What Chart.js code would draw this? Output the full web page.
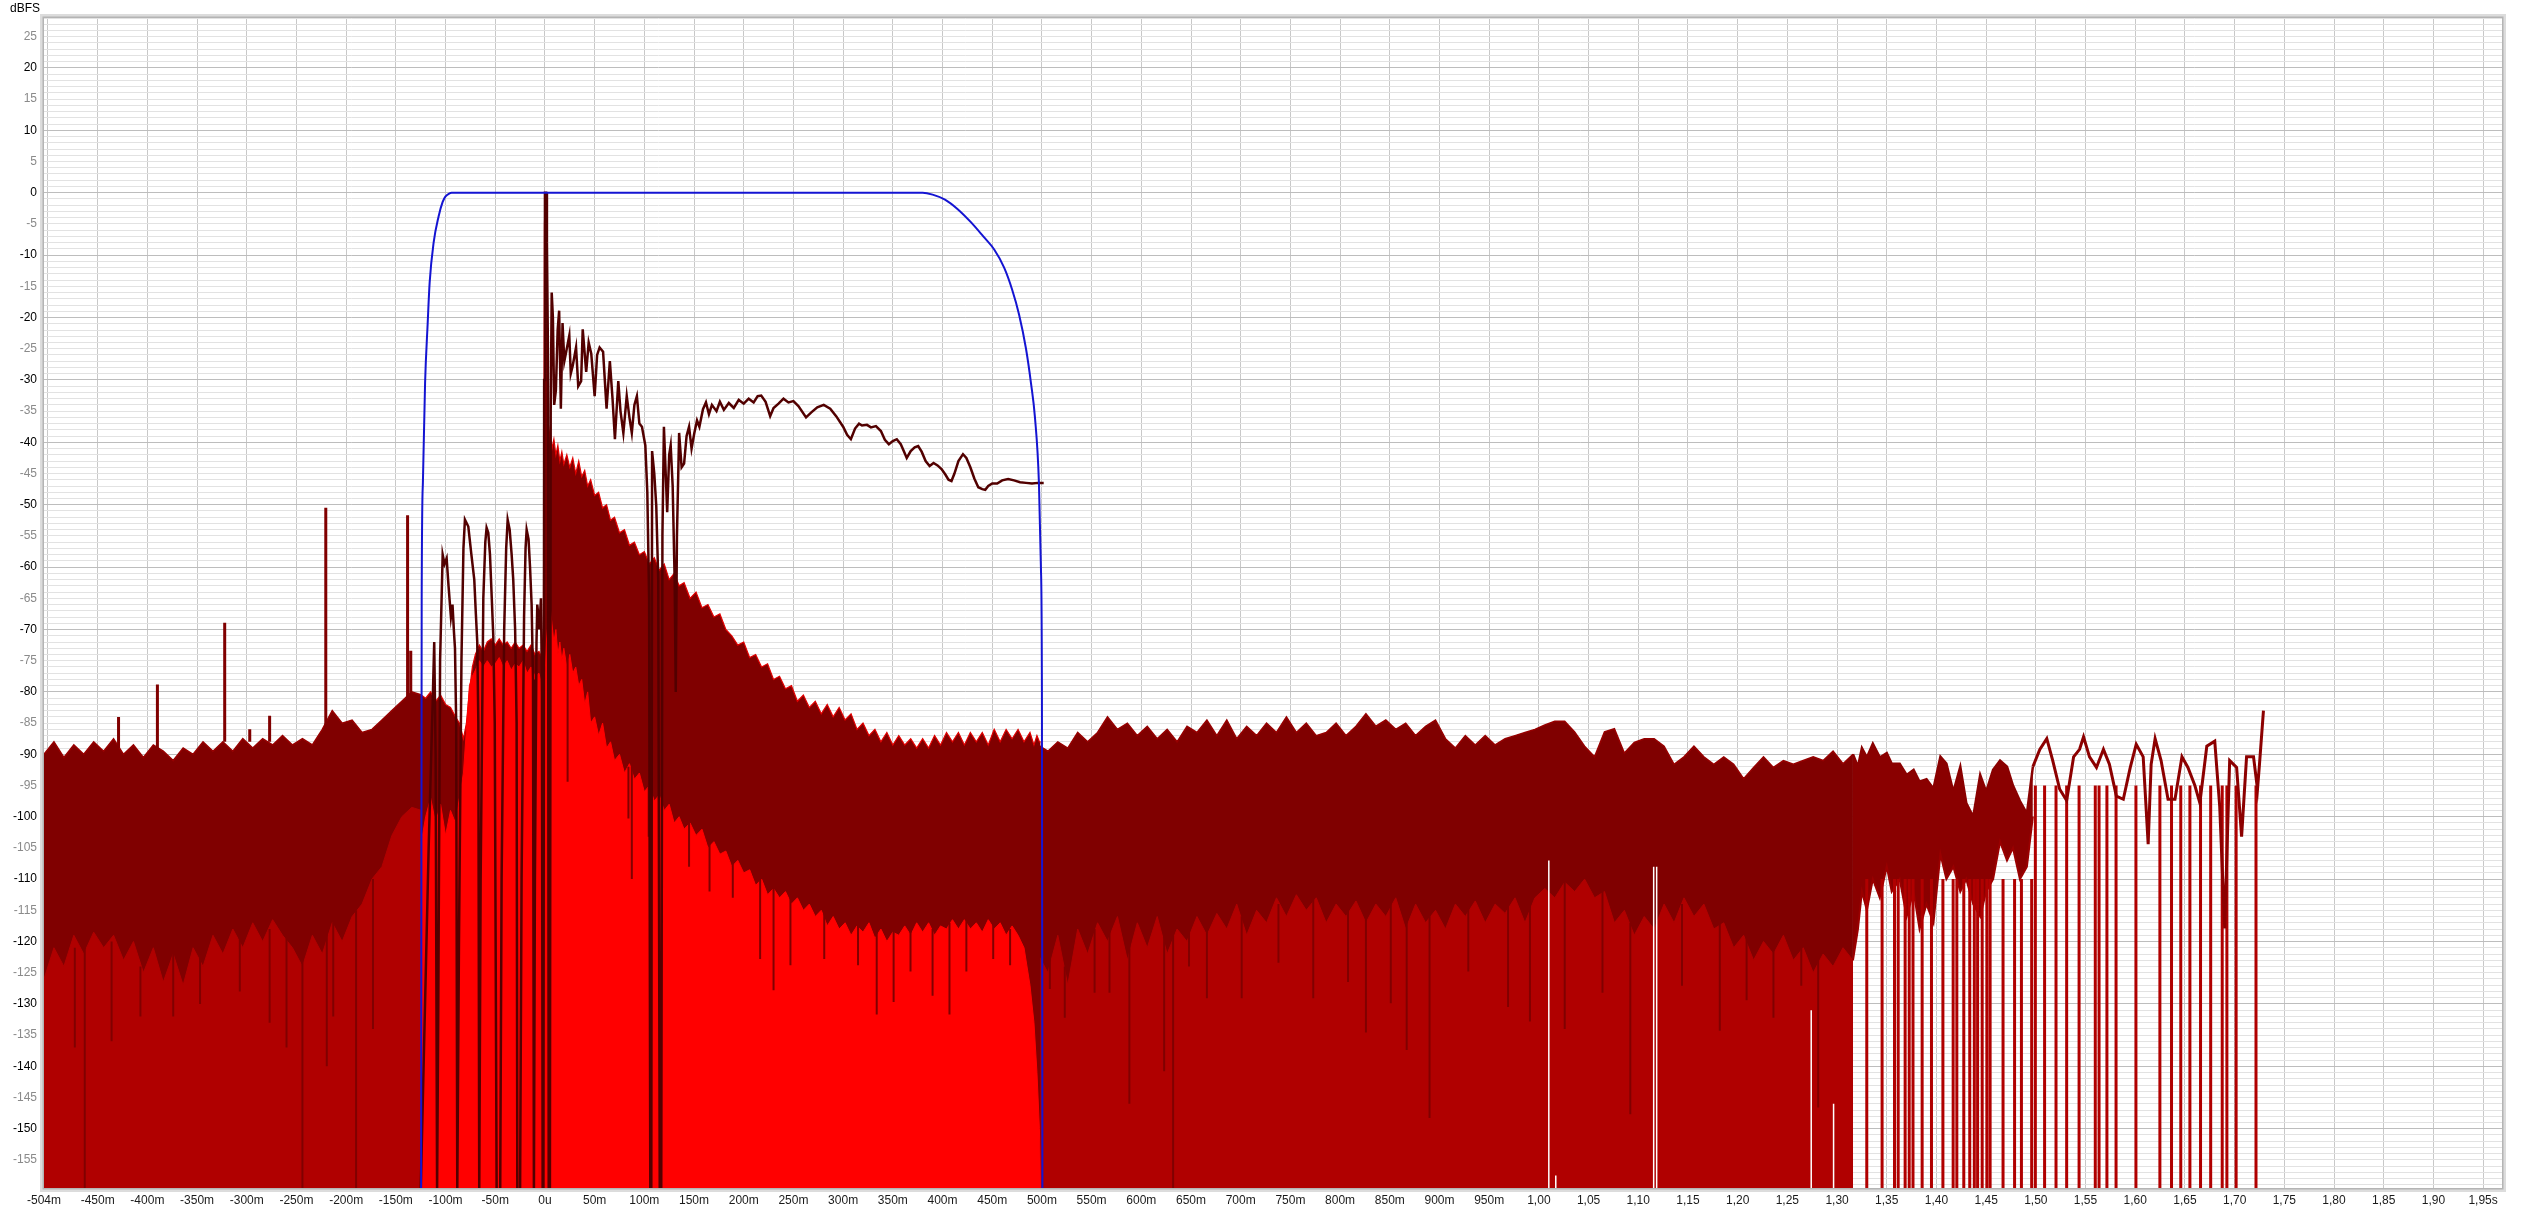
<!DOCTYPE html>
<html>
<head>
<meta charset="utf-8">
<title>Impulse response</title>
<script src="https://cdn.jsdelivr.net/npm/chart.js@4.4.1/dist/chart.umd.min.js"></script>
<style>
  html, body { margin: 0; padding: 0; background: #fff; }
  canvas { display: block; }
</style>
</head>
<body>
<canvas id="myChart" width="2524" height="1212"></canvas>
<script>
// axis ranges (ms / dBFS)
const xMin = -504, xMax = 1969;
const yMin = -159.5, yMax = 28;
const floorDb = -160;

const xTickValues = [-504, -450, -400, -350, -300, -250, -200, -150, -100, -50,
    0, 50, 100, 150, 200, 250, 300, 350, 400, 450,
    500, 550, 600, 650, 700, 750, 800, 850, 900, 950,
    1000, 1050, 1100, 1150, 1200, 1250, 1300, 1350, 1400, 1450,
    1500, 1550, 1600, 1650, 1700, 1750, 1800, 1850, 1900, 1950];
const xTickLabels = ['-504m', '-450m', '-400m', '-350m', '-300m', '-250m', '-200m', '-150m', '-100m', '-50m',
    '0u', '50m', '100m', '150m', '200m', '250m', '300m', '350m', '400m', '450m',
    '500m', '550m', '600m', '650m', '700m', '750m', '800m', '850m', '900m', '950m',
    '1,00', '1,05', '1,10', '1,15', '1,20', '1,25', '1,30', '1,35', '1,40', '1,45',
    '1,50', '1,55', '1,60', '1,65', '1,70', '1,75', '1,80', '1,85', '1,90', '1,95s'];
const yLabelValues = [25, 20, 15, 10, 5, 0, -5, -10, -15, -20, -25, -30, -35, -40, -45, -50, -55, -60, -65,
    -70, -75, -80, -85, -90, -95, -100, -105, -110, -115, -120, -125, -130, -135, -140, -145, -150, -155];

// full impulse response before the window, sampled every 10 ms from -504 ms
const preStart = -504, preStep = 10;
const preHi = [-90, -88, -90.5, -88.5, -90, -88, -89.5, -87.5, -90, -88.5,
    -90.5, -88.5, -89.5, -91, -89, -90, -88, -89.5, -88, -89.5,
    -87.5, -89, -87.5, -88.5, -87, -88.5, -87.5, -88.5, -86, -83,
    -85, -84.5, -86.5, -86, -84.5, -83, -81.5, -80, -80.5];
const preLo = [-126, -121, -124, -119, -122, -118.5, -121, -119, -123, -120,
    -125, -121, -126.5, -122, -127, -121, -124, -119, -122, -118,
    -121, -117, -120, -116.5, -119, -121, -124, -119, -122, -117,
    -120, -116, -114, -110, -108, -103, -100, -98.5, -99];

// windowed impulse response (-125 .. 500 ms)
const winT = [-125, -124.3, -120, -115, -110, -105, -100, -95, -90, -86,
    -82, -79, -76, -73, -70, -66, -62, -58, -54, -50,
    -46, -42, -38, -34, -30, -26, -22, -18, -14, -10,
    -6, -3, -1.5, -0.5, 0.5, 1.5, 2.5, 3.5, 5, 7,
    9, 11, 13, 15, 17, 19, 22, 25, 28, 31,
    34, 37, 40, 43, 46, 50, 54, 58, 62, 66,
    70, 75, 80, 85, 90, 95, 100, 105, 110, 115,
    120, 125, 130, 135, 140, 146, 152, 158, 164, 170,
    176, 182, 188, 194, 200, 206, 212, 218, 224, 230,
    236, 242, 248, 254, 260, 266, 272, 278, 284, 290,
    296, 302, 308, 314, 320, 326, 332, 338, 344, 350,
    356, 362, 368, 374, 380, 386, 392, 398, 404, 410,
    416, 422, 428, 434, 440, 446, 452, 458, 464, 470,
    476, 482, 488, 492, 495, 497.5, 498.7];
const winHi = [-80.5, -80.5, -81, -80, -81.5, -80.5, -82, -82.5, -84, -85,
    -87.5, -85, -80, -76, -74, -72.5, -73.5, -72, -71.5, -72.5,
    -71.5, -72.5, -72, -73, -72, -73, -72.5, -73.5, -72.5, -74,
    -73.5, -74.5, -70, -5, 0, -2, -30, -40, -38, -41,
    -39.5, -42, -40.5, -43, -41.5, -43.5, -42, -44, -42.5, -45,
    -43, -45.5, -44.5, -47, -46, -48.5, -48, -50.5, -50, -52.5,
    -52, -54.5, -54, -56.5, -56, -58, -57.5, -59.5, -58.5, -60.5,
    -59.5, -62, -61, -63, -62.5, -65, -64, -66.5, -66, -68,
    -67.5, -70, -71, -72.5, -72, -74.5, -74, -76, -75.5, -78,
    -77.5, -79.5, -79, -81.5, -80.5, -82.5, -81.5, -83.5, -82, -84,
    -82.5, -84.5, -83.5, -86, -85, -87, -86, -88, -86.5, -88.5,
    -87, -88.5, -87.5, -89, -87.5, -89, -87, -88.5, -86.5, -88,
    -86.5, -88.5, -86.5, -88, -86.5, -88.5, -86, -88, -86, -87.5,
    -86, -88, -86.5, -88.5, -87, -88, -88];
const winLo = [-160, -104, -100, -97, -101, -98, -103, -99, -101, -97,
    -93, -86, -79, -77.5, -76.5, -75, -76, -75, -76, -75.5,
    -74.5, -76, -75, -76.5, -75.5, -76, -75, -77, -76, -77.5,
    -77, -79, -80, -78, -76, -72, -70, -68, -66, -69,
    -72, -70, -74, -72, -75, -73, -76, -74, -77, -76,
    -79, -78, -82, -80, -85, -84, -87, -85, -89, -88,
    -91, -90, -93, -91.5, -94, -93, -96, -95, -97.5, -96.5,
    -99, -98, -101, -100, -102, -101, -103, -102, -105, -104,
    -106, -105.5, -108, -107, -109, -108.5, -111, -110, -112.5, -111.5,
    -113, -112, -114, -113, -115, -114, -116, -115, -117.5, -116,
    -118, -117, -119, -117.5, -118.5, -117, -119.5, -118, -120, -118.5,
    -119, -117.5, -119, -117, -118.5, -117, -119, -117.5, -118, -116.5,
    -118, -116.5, -118, -117, -118.5, -116.5, -118, -117, -119, -117.5,
    -119, -121, -127, -133, -141, -150, -160];

// full impulse response after the window, every 10 ms from 496 ms
const postStart = 496, postStep = 10;
const postHi = [-88.5, -89.5, -88, -89, -86.5, -88, -86.5, -84, -86, -85,
    -87, -85.5, -87.5, -86, -88, -85.5, -86.5, -84.5, -87, -84.5,
    -87.5, -85.5, -87, -85, -86.5, -84, -86.5, -85, -87, -86.5,
    -85, -87, -85.5, -83.5, -85.5, -84.5, -86, -85, -87, -85.5,
    -84.5, -87.5, -89, -87, -88.5, -87, -88.5, -87.5, -87, -86.5,
    -86, -85.3, -84.7, -84.7, -86.4, -88.7, -90.4, -86.4, -85.9, -89.8,
    -88.1, -87.5, -87.5, -88.7, -91.6, -90.4, -88.7, -90.4, -91.6, -90.4,
    -91.6, -93.9, -92.1, -90.4, -92.1, -91, -91.6, -91, -90.4, -91,
    -89.5, -91.5, -90];
const postLo = [-122, -125, -119, -127, -118, -122, -117, -120, -116, -123,
    -117, -121, -116, -122, -118, -120, -116, -119, -115.5, -118,
    -114, -119, -115, -117, -113, -116, -112.5, -115, -113, -117,
    -114, -116, -113.5, -117, -114, -116, -113, -118, -114, -117,
    -115, -118, -114, -116, -113.5, -117, -114, -115.5, -113, -117,
    -113, -111.5, -113, -110.5, -112, -110, -113, -112, -117, -115,
    -119, -116, -118, -114, -117, -113, -116, -114, -118, -117,
    -121, -119, -123, -120, -122, -119, -123, -121, -125, -122,
    -124, -121, -123];

// tail: dense part, then a single jagged trace
const tailDenseT = [1316, 1321, 1325, 1330, 1336, 1343, 1350, 1355, 1363, 1370,
    1377, 1383, 1390, 1397, 1404, 1410, 1417, 1424, 1430, 1437,
    1444, 1450, 1457, 1464, 1471, 1477, 1484, 1491, 1497];
const tailDenseHi = [-90, -92, -89, -90.5, -88.3, -90.5, -89.8, -91.5, -91.5, -93.3,
    -92.5, -94.4, -94, -95.5, -90.4, -91.5, -96, -92, -97.8, -100,
    -93.3, -96, -92.5, -91, -92, -95, -97.5, -99.5, -92];
const tailDenseLo = [-123, -118, -112, -115, -110, -113, -108, -112, -110, -116,
    -112, -118, -114, -117, -106, -110, -108, -112, -110, -114,
    -116, -112, -110, -104, -107, -105, -110, -108, -100];
const tailT = [1497, 1504, 1511, 1517, 1524, 1531, 1538, 1544, 1548, 1554,
    1561, 1568, 1574, 1581, 1588, 1595, 1601, 1608, 1613, 1616,
    1620, 1626, 1633, 1640, 1647, 1653, 1660, 1665, 1672, 1680,
    1685, 1690, 1695, 1702, 1707, 1712, 1719, 1723, 1725, 1729];
const tailV = [-92, -89.2, -87.5, -91, -95.6, -97.4, -90.4, -89.2, -87.2, -90.4,
    -92.1, -89.2, -91.6, -96.7, -97.2, -92.1, -88.4, -90.4, -104.4, -91.6,
    -87.5, -91, -97.2, -97.2, -90.4, -92.1, -95, -97.8, -88.7, -87.9,
    -98.4, -117.9, -91, -92.1, -103.2, -90.4, -90.4, -95.6, -91.6, -83];

// deep drops of the tail down to the floor
const stripeT = [1329.9, 1345.3, 1357.8, 1361.5, 1368.5, 1372.6, 1376.4, 1385.6, 1395, 1406.5,
    1416.8, 1420.5, 1427.5, 1433.5, 1438.1, 1441.4, 1446, 1450.7, 1454, 1467,
    1478.6, 1485.5, 1495.8, 1499.5, 1508.8, 1520.3, 1531, 1543.5, 1559.8, 1563.6,
    1571.5, 1580.7, 1600.7, 1624.8, 1636.5, 1645.8, 1655, 1665.7, 1675.9, 1687.5,
    1692.2, 1701.5, 1721.5];
const stripeTop = [-110, -110, -110, -110, -110, -110, -110, -110, -110, -110,
    -110, -110, -110, -110, -110, -110, -110, -110, -110, -110,
    -110, -110, -110, -95, -95, -95, -95, -95, -95, -95,
    -95, -95, -95, -95, -95, -95, -95, -95, -95, -95,
    -95, -95, -95];

// isolated spikes of the full response
const spikeT = [-429, -389.9, -322.2, -297, -277, -220.5, -138.2, -135, 0.7];
const spikeTop = [-84, -78.8, -68.9, -86, -83.8, -50.5, -51.7, -73.4, 0];
const spikeBase = [-89, -90, -88, -88, -88, -86, -81, -81, -40];

// dark dips reaching down from the maroon band
const dipT = [-473, -463, -436, -407, -374, -347, -307, -277, -260, -244,
    -219.5, -213, -190, -173, 22.8, 84, 87.4, 104.4, 145, 165.6,
    189, 216.5, 230, 247, 281, 315, 333.8, 350.8, 367.8, 390,
    407, 424, 451, 468, 508, 523, 553, 568, 588, 623,
    632, 648, 666, 701, 738, 773, 808, 826, 851, 867,
    890, 929, 969, 991, 1026, 1064, 1092, 1144, 1182, 1209,
    1236, 1264, 1281];
const dipTop = [-121, -120, -120, -124, -122, -121, -118, -118, -119, -121,
    -118, -117, -115, -110, -74, -92, -92, -95, -101, -104,
    -107, -110, -111, -113, -115, -117, -118, -118, -118, -118,
    -117, -116, -117, -118, -122, -124, -118, -118, -118, -118,
    -118, -118, -117, -116, -114, -113, -114, -114, -114, -114,
    -115, -114, -114, -114, -110, -112, -117, -114, -116, -119,
    -120, -120, -122];
const dipBottom = [-137, -160, -136, -132, -132, -130, -128, -133, -137, -160,
    -140, -132, -160, -134, -94.4, -100.3, -110, -103.2, -108, -112,
    -113, -122.8, -127.8, -123.8, -122.8, -123.8, -131.7, -129.7, -124.8, -128.7,
    -131.7, -124.8, -122.8, -123.8, -127.6, -132.2, -128.2, -128.2, -146, -140.8,
    -160, -124, -129.1, -129.1, -123.4, -129.1, -126.5, -134.6, -129.9, -137.4,
    -148.3, -124.8, -130.5, -132.8, -134, -128.2, -147.7, -127.1, -134.3, -129.4,
    -132.2, -127.1, -146.6];

// empty (white) slivers in the lower fill
const whiteT = [1010, 1017, 1115.5, 1118.5, 1274, 1296.5];
const whiteTop = [-107, -157.5, -108, -108, -131, -146];

// window curve (blue)
const windowT = [-124.6, -124, -122.8, -120.6, -118, -116, -112, -107, -103, -100,
    -96, -94, 380, 390, 402.5, 415, 429, 441, 452, 462,
    470, 477, 484, 489, 493, 497, 499, 500, 500.5];
const windowV = [-160, -65, -46.5, -30.5, -21, -14.4, -8, -3.8, -1.5, -0.6,
    -0.1, 0, 0, -0.3, -1.1, -2.6, -4.8, -7, -9.1, -12,
    -15.5, -19.5, -25, -30.5, -36, -46.5, -60, -80, -160];

// smoothed energy curve (dark brown)
const etcT = [-125, -117, -113, -111.4, -110, -108.5, -107.3, -105.5, -102.9, -101,
    -98.9, -97, -94.6, -93, -91.5, -90.5, -89.3, -88.2, -86.5, -84,
    -82, -80.5, -77.1, -74, -71.1, -69.5, -68.1, -67, -66.1, -64.7,
    -62, -60, -58.7, -57, -55.3, -53.5, -52, -50.5, -48.6, -45,
    -43.6, -41, -39, -37.5, -35.5, -33.5, -31.9, -30, -28.5, -27.8,
    -25, -23.5, -21, -19.5, -18.4, -16.5, -15, -13.4, -12, -11.1,
    -10.1, -8.5, -7.7, -6.5, -5.7, -4, -3, -2.3, -1.5, -0.8,
    0, 1.2, 2, 3, 3.8, 5, 5.8, 6.8, 8, 9.3,
    11, 12.8, 14.3, 16, 17.7, 19.5, 21, 24.5, 26, 28,
    31.3, 33.5, 36.4, 38, 41.5, 44, 46.6, 50, 52.5, 55,
    58.5, 62, 65.3, 68, 70.4, 73.8, 76, 78.9, 82.3, 85,
    87.4, 90, 92.5, 95, 97.6, 101, 103, 104.8, 106, 107,
    107.8, 110, 112, 114, 115.5, 117, 118.2, 119.7, 121.5, 123,
    125, 126.5, 128.5, 130.5, 131.6, 132.8, 135, 137.5, 140, 142.5,
    145, 147.5, 150.3, 153, 155.4, 159, 162, 165, 168, 172.6,
    176, 180, 185, 190, 195, 200, 205, 210, 214, 217.6,
    222, 226.6, 230, 235, 240, 245, 250, 255, 262.7, 268,
    274, 280.5, 287, 293, 300, 304, 307.8, 312, 316, 319,
    324, 328, 333, 338, 342, 346, 350, 354, 358, 361,
    364, 368, 372, 375.5, 379, 383, 387, 391, 395, 399,
    403, 406, 409, 412, 416, 420.6, 424, 428, 432, 436,
    440, 443, 446, 450, 455, 460, 466, 472, 478, 484,
    490, 496, 501.8];
const etcV = [-160, -105, -82, -72, -90, -160, -130, -75, -58, -59.5,
    -58.6, -63, -68, -66, -70.5, -73, -85, -160, -120, -75,
    -57, -52.4, -53.5, -58, -62, -67.5, -72, -85, -160, -110,
    -65, -56, -53.7, -54.5, -58, -65, -71, -85, -160, -160,
    -110, -70, -57, -52.4, -54, -58, -62, -70, -85, -160,
    -160, -110, -68, -57, -54, -55.5, -60, -66, -78, -160,
    -110, -72, -66, -68, -70, -65, -80, -160, -160, -30,
    0, 0, -8, -25, -160, -160, -35, -16, -20, -34,
    -31.7, -22, -18.9, -34.6, -20.9, -27, -25.8, -22.9, -29, -27.7,
    -24.8, -31, -30.2, -21.9, -28.7, -24, -25.8, -32.6, -26, -24.8,
    -25.5, -34.6, -27, -33, -39.5, -30.2, -35, -38.5, -32.6, -36,
    -38.5, -34, -32.6, -37, -37.5, -40.5, -48, -65, -160, -160,
    -41.4, -45, -50.2, -62, -160, -160, -55, -37.5, -45, -51.2,
    -42, -40.5, -47, -62, -80, -55, -38.5, -44, -43.4, -39,
    -37.5, -41, -38.5, -36.5, -37.5, -34.7, -33.6, -35.5, -34, -35,
    -33.5, -34.8, -33.7, -34.5, -33.2, -33.8, -33, -33.6, -32.6, -32.5,
    -33.5, -35.8, -34.5, -33.8, -33, -33.6, -33.4, -34.2, -36, -35.2,
    -34.4, -34, -34.6, -35.8, -37.5, -38.8, -39.5, -37.8, -37, -37.3,
    -37.2, -37.6, -37.4, -38.2, -39.6, -40.3, -39.8, -39.5, -40.3, -41.4,
    -42.5, -41.4, -40.8, -40.6, -41.5, -43, -43.8, -43.3, -43.7, -44.3,
    -45.2, -46, -46.2, -45, -43, -41.9, -42.5, -44, -45.8, -47.2,
    -47.5, -47.6, -47, -46.6, -46.6, -46.1, -45.9, -46.1, -46.4, -46.5,
    -46.6, -46.5, -46.5];

function pts(ts, vs) {
    return vs.map((v, i) => ({x: ts[i], y: v}));
}
function gridPts(start, step, vs) {
    return vs.map((v, i) => ({x: start + i * step, y: v}));
}
// vertical strokes, one per entry, separated by gaps
function strokes(ts, tops, bottoms) {
    let out = [];
    ts.forEach((t, i) => {
        let b = Array.isArray(bottoms) ? bottoms[i] : bottoms;
        out.push({x: t, y: tops[i]}, {x: t, y: b}, {x: t, y: null});
    });
    return out;
}

const maroon = '#800000';
const midRed = '#b00000';
const brightRed = '#ff0000';

function line(label, data, color, width, extra) {
    return Object.assign({
        label: label,
        data: data,
        borderColor: color,
        backgroundColor: color,
        borderWidth: width,
        pointRadius: 0,
        tension: 0,
        fill: false,
        spanGaps: false,
        clip: 0
    }, extra || {});
}

// listed back to front
let layers = [
    line('pre hi', gridPts(preStart, preStep, preHi), '#960000', 1.5, {fill: 'start', backgroundColor: maroon}),
    line('post hi', gridPts(postStart, postStep, postHi), '#960000', 1.5, {fill: 'start', backgroundColor: maroon}),
    line('pre lo', gridPts(preStart, preStep, preLo), midRed, 1, {fill: 'start', backgroundColor: midRed}),
    line('post lo', gridPts(postStart, postStep, postLo), midRed, 1, {fill: 'start', backgroundColor: midRed}),
    line('window hi', pts(winT, winHi), '#e00000', 1.2, {fill: 'start', backgroundColor: maroon}),
    line('window lo', pts(winT, winLo), brightRed, 1, {fill: 'start', backgroundColor: brightRed}),
    line('white', strokes(whiteT, whiteTop, floorDb), '#ffffff', 1.5),
    line('dips', strokes(dipT, dipTop, dipBottom), maroon, 2),
    line('spikes', strokes(spikeT, spikeTop, spikeBase), maroon, 3),
    line('tail hi', pts(tailDenseT, tailDenseHi), '#8a0000', 2.5),
    line('tail lo', pts(tailDenseT, tailDenseLo), '#9a0000', 2),
    line('stripes', strokes(stripeT, stripeTop, floorDb), midRed, 3),
    line('tail', pts(tailT, tailV), '#8c0000', 3),
    line('etc', pts(etcT, etcV), '#520000', 2.5),
    line('window', pts(windowT, windowV), '#1414d2', 2, {cubicInterpolationMode: 'monotone'})
];
let tailHiIndex = layers.findIndex(d => d.label === 'tail hi');
layers.find(d => d.label === 'tail lo').fill = tailHiIndex;
layers.find(d => d.label === 'tail lo').backgroundColor = '#8a0000';
layers.forEach((d, i) => d.order = layers.length - i);

let gridVals = [];
for (let v = -500; v <= 1950; v += 50) gridVals.push(v);

const tickFont = {family: "'Liberation Sans', Arial, sans-serif", size: 12};

const framePlugin = {
    id: 'frame',
    afterDatasetsDraw(chart) {
        let ctx = chart.ctx, a = chart.chartArea;
        ctx.save();
        ctx.strokeStyle = '#dcdcdc';
        ctx.lineWidth = 4;
        ctx.strokeRect(a.left - 2, a.top - 2, a.right - a.left + 4, a.bottom - a.top + 4);
        ctx.strokeStyle = '#b4b4b4';
        ctx.lineWidth = 1.5;
        ctx.strokeRect(a.left - 0.75, a.top - 0.75, a.right - a.left + 1.5, a.bottom - a.top + 1.5);
        ctx.restore();
    },
    afterDraw(chart) {
        let ctx = chart.ctx;
        ctx.save();
        ctx.fillStyle = '#000';
        ctx.font = "12px 'Liberation Sans', Arial, sans-serif";
        ctx.textBaseline = 'middle';
        ctx.fillText('dBFS', 10, 9);
        ctx.restore();
    }
};

let ctx = document.getElementById('myChart').getContext('2d');
let chart = new Chart(ctx, {
    type: 'line',
    data: {datasets: layers},
    options: {
        responsive: false,
        animation: false,
        devicePixelRatio: 1,
        events: [],
        layout: {padding: {top: 18, right: 22, left: 0, bottom: 0}},
        plugins: {legend: {display: false}, tooltip: {enabled: false}},
        scales: {
            x: {
                type: 'linear',
                min: xMin,
                max: xMax,
                afterBuildTicks: s => {
                    s.ticks = [{value: xMin}].concat(gridVals.map(v => ({value: v})));
                },
                afterFit: s => { s.height = 24; },
                border: {display: false},
                grid: {
                    drawTicks: false,
                    color: c => (c.tick && c.tick.value === xMin) ? 'rgba(0,0,0,0)' : '#c8c8c8'
                },
                ticks: {
                    autoSkip: false,
                    maxRotation: 0,
                    padding: 5,
                    color: '#1a1a1a',
                    font: tickFont,
                    callback: v => {
                        let k = xTickValues.indexOf(v);
                        return k < 0 ? '' : xTickLabels[k];
                    }
                }
            },
            y: {
                type: 'linear',
                min: yMin,
                max: yMax,
                afterBuildTicks: s => {
                    let t = [];
                    for (let v = -159; v <= 28; v++) t.push({value: v});
                    s.ticks = t;
                },
                afterFit: s => { s.width = 44; },
                border: {display: false},
                grid: {
                    drawTicks: false,
                    color: c => (c.tick && c.tick.value % 10 === 0) ? '#bdbdbd' : '#e2e2e2'
                },
                ticks: {
                    autoSkip: false,
                    padding: 7,
                    font: tickFont,
                    color: c => (c.tick && c.tick.value % 10 === 0) ? '#000000' : '#8a8a8a',
                    callback: v => yLabelValues.includes(v) ? String(v) : ''
                }
            }
        }
    },
    plugins: [framePlugin]
});
</script>
</body>
</html>
